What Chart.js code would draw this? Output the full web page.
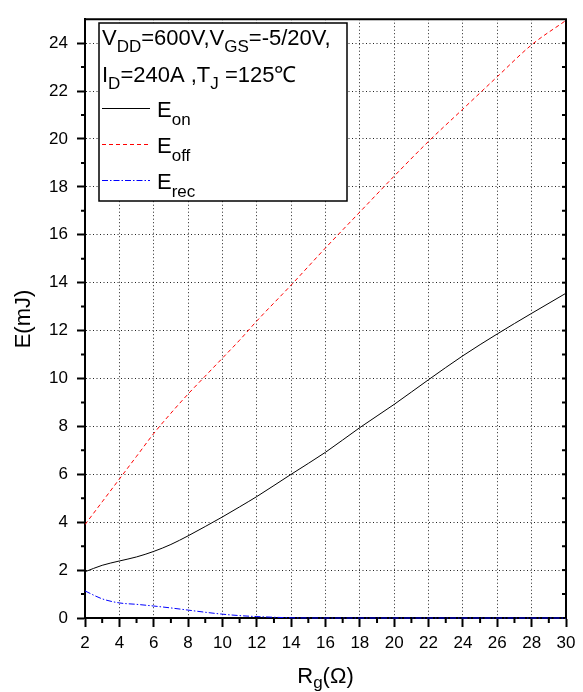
<!DOCTYPE html>
<html lang="en">
<head>
  <meta charset="UTF-8" />
  <title>Switching energy vs Rg</title>
  <script src="https://cdn.jsdelivr.net/npm/chart.js"></script>
  <style>
    body { margin: 0; background: #fff; }
    .chart-container {
      width: 583px;
      height: 692px;
      position: relative;
    }
  </style>
</head>
<body>
  <div class="chart-container">
    <canvas id="energyChart"></canvas>
  </div>

  <script>
    // Gate resistance (ohm) sample points
    const rg = [2, 3, 4, 5, 6, 7, 8, 9, 10, 11, 12, 14, 16, 18, 20, 22, 24, 26, 28, 30];

    // Energies in mJ
    const eOn  = [1.93, 2.2, 2.38, 2.55, 2.78, 3.07, 3.43, 3.82, 4.22, 4.64, 5.07, 6.0, 6.92, 7.95, 8.92, 9.95, 10.95, 11.86, 12.72, 13.56];
    const eOff = [3.9, 4.85, 5.8, 6.75, 7.7, 8.55, 9.35, 10.1, 10.85, 11.6, 12.4, 13.9, 15.45, 16.95, 18.45, 19.9, 21.25, 22.6, 23.93, 24.95];
    const eRec = [1.13, 0.8, 0.63, 0.57, 0.5, 0.42, 0.33, 0.24, 0.16, 0.1, 0.06, 0.01, 0, 0, 0, 0, 0, 0, 0, 0];

    const xTicks = [2, 4, 6, 8, 10, 12, 14, 16, 18, 20, 22, 24, 26, 28, 30];
    const yTicks = [0, 2, 4, 6, 8, 10, 12, 14, 16, 18, 20, 22, 24];

    const seriesSubs = ["on", "off", "rec"];
    const conditionLines = [
      [["V"], ["DD", true], ["=600V,V"], ["GS", true], ["=-5/20V,"]],
      [["I"], ["D", true], ["=240A ,T"], ["J", true], [" =125℃"]]
    ];

    const FONT = "'Liberation Sans', Arial, sans-serif";

    function toPoints(ys) {
      return rg.map((x, i) => ({ x: x, y: ys[i] }));
    }

    // draws text with subscript pieces, returns end x
    function drawRich(ctx, parts, x, y, size, subSize, subDrop) {
      ctx.textBaseline = "alphabetic";
      ctx.textAlign = "left";
      for (const [t, sub] of parts) {
        ctx.font = (sub ? subSize : size) + "px " + FONT;
        ctx.fillText(t, x, sub ? y + subDrop : y);
        x += ctx.measureText(t).width;
      }
      return x;
    }

    const decorations = {
      id: "decorations",
      afterDraw(chart) {
        const ctx = chart.ctx;
        const xs = chart.scales.x, ys = chart.scales.y;
        const a = chart.chartArea;
        ctx.save();
        ctx.strokeStyle = "#000";

        // top and right frame
        ctx.lineWidth = 2;
        ctx.beginPath();
        ctx.moveTo(a.left - 1, a.top);
        ctx.lineTo(a.right, a.top);
        ctx.lineTo(a.right, a.bottom);
        ctx.stroke();

        // minor ticks on left (outside) and right (inside)
        ctx.lineWidth = 2;
        for (let v = 1; v <= 25; v++) {
          const py = ys.getPixelForValue(v);
          ctx.beginPath();
          if (v % 2 === 1 && v < 25) {
            ctx.moveTo(a.left, py);
            ctx.lineTo(a.left - 4, py);
          }
          if (v < 25) {
            ctx.moveTo(a.right, py);
            ctx.lineTo(a.right - 4, py);
          }
          ctx.stroke();
        }
        // minor ticks on bottom
        for (let v = 3; v < 30; v += 2) {
          const px = xs.getPixelForValue(v);
          ctx.beginPath();
          ctx.moveTo(px, a.bottom);
          ctx.lineTo(px, a.bottom + 5);
          ctx.stroke();
        }

        // legend box
        ctx.fillStyle = "#fff";
        ctx.fillRect(99, 23, 248, 178);
        ctx.lineWidth = 1.5;
        ctx.strokeRect(99, 23, 248, 178);

        ctx.fillStyle = "#000";
        drawRich(ctx, conditionLines[0], 102, 45, 22, 17, 7);
        drawRich(ctx, conditionLines[1], 102, 82, 22, 17, 7);

        const rows = [108, 144, 180];
        chart.data.datasets.forEach((ds, i) => {
          ctx.save();
          ctx.strokeStyle = ds.borderColor;
          ctx.lineWidth = 1;
          ctx.setLineDash(ds.borderDash || []);
          ctx.beginPath();
          ctx.moveTo(102, rows[i] + 0.5);
          ctx.lineTo(150, rows[i] + 0.5);
          ctx.stroke();
          ctx.restore();
          drawRich(ctx, [["E"], [seriesSubs[i], true]], 157, rows[i] + 9, 22, 17, 8);
        });

        // axis titles
        ctx.save();
        ctx.translate(30, 319);
        ctx.rotate(-Math.PI / 2);
        ctx.font = "22px " + FONT;
        ctx.textAlign = "center";
        ctx.textBaseline = "alphabetic";
        ctx.fillText("E(mJ)", 0, 0);
        ctx.restore();

        const parts = [["R"], ["g", true], ["(Ω)"]];
        let w = 0;
        for (const [t, sub] of parts) {
          ctx.font = (sub ? 17 : 22) + "px " + FONT;
          w += ctx.measureText(t).width;
        }
        drawRich(ctx, parts, (a.left + a.right) / 2 - w / 2, 683, 22, 17, 5);

        ctx.restore();
      }
    };

    const ctx = document.getElementById("energyChart").getContext("2d");
    new Chart(ctx, {
      type: "line",
      data: {
        datasets: [
          {
            label: "Eon",
            data: toPoints(eOn),
            borderColor: "#000",
            borderWidth: 1,
            pointRadius: 0,
            cubicInterpolationMode: "monotone",
            fill: false
          },
          {
            label: "Eoff",
            data: toPoints(eOff),
            borderColor: "#ff0000",
            borderWidth: 1,
            borderDash: [4, 3],
            pointRadius: 0,
            cubicInterpolationMode: "monotone",
            fill: false
          },
          {
            label: "Erec",
            data: toPoints(eRec),
            borderColor: "#0000ff",
            borderWidth: 1,
            borderDash: [6, 2, 1.5, 2],
            pointRadius: 0,
            cubicInterpolationMode: "monotone",
            clip: 4,
            fill: false
          }
        ]
      },
      options: {
        responsive: true,
        maintainAspectRatio: false,
        animation: false,
        layout: { padding: { left: 0, right: 17, top: 7, bottom: 0 } },
        plugins: {
          legend: { display: false },
          tooltip: { enabled: false }
        },
        scales: {
          x: {
            type: "linear",
            min: 2,
            max: 30,
            afterBuildTicks: (s) => { s.ticks = xTicks.map(v => ({ value: v })); },
            afterFit: (s) => { s.height = 74; },
            grid: {
              color: "#222",
              lineWidth: 1,
              tickLength: 9,
              tickWidth: 2,
              tickColor: "#000"
            },
            border: { display: true, color: "#000", width: 2, dash: [1, 2.5] },
            ticks: {
              color: "#000",
              padding: 6,
              maxRotation: 0,
              font: { family: FONT, size: 17 }
            }
          },
          y: {
            type: "linear",
            min: 0,
            max: 25,
            afterBuildTicks: (s) => { s.ticks = yTicks.map(v => ({ value: v })); },
            afterFit: (s) => { s.width = 85; },
            grid: {
              color: "#222",
              lineWidth: 1,
              tickLength: 8,
              tickWidth: 2,
              tickColor: "#000"
            },
            border: { display: true, color: "#000", width: 2, dash: [1, 2.5] },
            ticks: {
              color: "#000",
              padding: 9,
              font: { family: FONT, size: 17 }
            }
          }
        }
      },
      plugins: [decorations]
    });
  </script>
</body>
</html>
